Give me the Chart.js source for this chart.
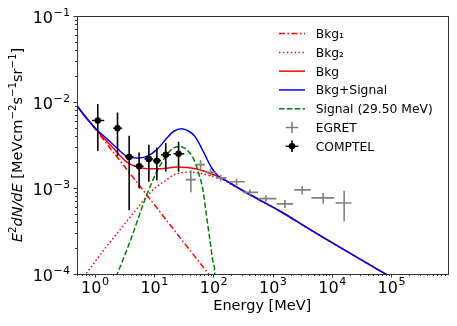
<!DOCTYPE html>
<html><head><meta charset="utf-8">
<script src="https://cdn.jsdelivr.net/npm/chart.js@4/dist/chart.umd.min.js"></script>
<style>html,body{margin:0;padding:0;background:#fff;}#wrap{width:457px;height:326px;position:relative;}</style>
</head><body><div id="wrap"><canvas id="c" width="457" height="326"></canvas></div>
<script>
// ---------- data ----------
const bkg1E = [0.5, 1, 2, 5, 10, 20, 50, 100, 150];
const bkg1Y = [9.0e-3, 4.9e-3, 2.66e-3, 1.19e-3, 6.45e-4, 3.49e-4, 1.56e-4, 8.5e-5, 6.0e-5];

const bkg2E = [0.6, 0.705, 1.0, 1.59, 2.5, 3.46, 5.1, 7.53, 11.1, 16.4, 20.9, 27.1, 40, 59, 87, 128, 200, 361, 1318, 4223, 56300, 150000];
const bkg2Y = [8.6e-5, 1.0e-4, 1.38e-4, 2.11e-4, 3.1e-4, 4.11e-4, 5.74e-4, 8.0e-4, 1.04e-3, 1.25e-3, 1.41e-3, 1.49e-3, 1.53e-3, 1.49e-3, 1.39e-3, 1.30e-3, 1.10e-3, 8.77e-4, 5.37e-4, 3.29e-4, 1.15e-4, 7.8e-5];

const bkgE = [0.5, 1, 2, 3.46, 5.11, 7.5, 11.1, 16.4, 24.3, 35.6, 52.7, 87, 128, 200, 361, 1318, 4223, 56300, 150000];
const bkgY = [9.0e-3, 5.0e-3, 2.95e-3, 2.0e-3, 1.76e-3, 1.68e-3, 1.67e-3, 1.70e-3, 1.76e-3, 1.73e-3, 1.66e-3, 1.48e-3, 1.34e-3, 1.12e-3, 8.8e-4, 5.4e-4, 3.3e-4, 1.15e-4, 7.8e-5];

const totE = [0.5, 0.733, 1.08, 1.59, 2.35, 3.46, 5.11, 7.53, 11.1, 16.4, 21.5, 29.0, 38.5, 48.5, 59.0, 71.6, 92.9, 120, 166, 200, 361, 1318, 4223, 56300, 150000];
const totY = [9.04e-3, 6.38e-3, 4.76e-3, 3.75e-3, 2.92e-3, 2.33e-3, 2.23e-3, 2.33e-3, 2.79e-3, 3.81e-3, 4.57e-3, 4.89e-3, 4.57e-3, 4.0e-3, 3.18e-3, 2.44e-3, 1.72e-3, 1.38e-3, 1.21e-3, 1.12e-3, 8.8e-4, 5.4e-4, 3.3e-4, 1.15e-4, 7.8e-5];

const sigE = [2.0, 2.38, 3.89, 7.53, 11.1, 16.4, 21.1, 27.1, 35.2, 45.5, 55.2, 67.0, 76.5, 86.9, 98.9, 105.6, 110];
const sigY = [7.6e-5, 1.0e-4, 2.35e-4, 8.4e-4, 1.55e-3, 2.44e-3, 2.92e-3, 3.05e-3, 2.79e-3, 2.23e-3, 1.56e-3, 9.2e-4, 4.7e-4, 2.52e-4, 1.35e-4, 1.0e-4, 3.0e-5];

const egretE   = [41.6, 60.6, 89.3, 132, 245, 411, 766, 1600, 3133, 7080, 16000];
const egretY   = [1.25e-3, 1.87e-3, 1.52e-3, 1.31e-3, 1.18e-3, 8.9e-4, 7.53e-4, 6.54e-4, 9.5e-4, 7.67e-4, 6.7e-4];
const egretYerr= [3.6e-4, 2.5e-4, 1.5e-4, 1.2e-4, 1.0e-4, 8e-5, 7e-5, 7e-5, 1.1e-4, 1.1e-4, 2.6e-4];
const egretElo = [34.2, 51.9, 74.5, 110, 189, 316, 567, 1159, 2296, 4510, 11500];
const egretEhi = [50.5, 71.6, 110, 166, 339, 567, 1159, 2208, 4339, 10840, 21300];

const comptelE   = [1.12, 2.41, 3.79, 5.58, 8.14, 11.1, 15.7, 25.8];
const comptelY   = [6.1e-3, 4.96e-3, 2.30e-3, 1.79e-3, 2.18e-3, 2.08e-3, 2.44e-3, 2.5e-3];
const comptelYerr= [3.4e-3, 2.6e-3, 1.75e-3, 8.0e-4, 1.0e-3, 8.5e-4, 9.0e-4, 9.5e-4];
const comptelElo = [0.89, 2.04, 3.24, 4.60, 6.88, 9.5, 13.1, 21.2];
const comptelEhi = [1.44, 2.89, 4.50, 6.62, 9.51, 13.0, 19.1, 32.1];

const xTickVals = [1, 10, 100, 1000, 10000, 100000];
const xTickExps = ['0', '1', '2', '3', '4', '5'];
const yTickVals = [1e-4, 1e-3, 1e-2, 1e-1];
const yTickExps = ['\u22124', '\u22123', '\u22122', '\u22121'];

// ---------- chart ----------
const FONT = 'DejaVu Sans';
const pts = (E, Y) => E.map((e, i) => ({x: e, y: Y[i]}));
const curve = (label, E, Y, color, dash, order) => ({
  label, data: pts(E, Y), borderColor: color, backgroundColor: color, borderDash: dash,
  borderWidth: 1.5, pointRadius: 0, showLine: true, fill: false, tension: 0.4,
  cubicInterpolationMode: 'monotone', order, legendKind: 'line'
});

const datasets = [
  curve('Bkg\u2081', bkg1E, bkg1Y, '#ff0000', [6, 2.5, 1.5, 2.5], 10),
  curve('Bkg\u2082', bkg2E, bkg2Y, '#ff0000', [1.5, 2.4], 9),
  curve('Bkg', bkgE, bkgY, '#ff0000', [], 8),
  curve('Bkg+Signal', totE, totY, '#0000ff', [], 7),
  curve('Signal (29.50 MeV)', sigE, sigY, '#008000', [5.5, 2.4], 6),
  { label: 'EGRET', data: pts(egretE, egretY), showLine: false, pointRadius: 0, order: 2,
    borderColor: '#808080', backgroundColor: '#808080', legendKind: 'err',
    errors: {xlo: egretElo, xhi: egretEhi, yerr: egretYerr}, errColor: '#808080', errWidth: 1.6 },
  { label: 'COMPTEL', data: pts(comptelE, comptelY), showLine: false, pointRadius: 3.2, pointBorderWidth: 0,
    pointBackgroundColor: '#000', borderColor: '#000', backgroundColor: '#000', order: 1, legendKind: 'errdot',
    errors: {xlo: comptelElo, xhi: comptelEhi, yerr: comptelYerr}, errColor: '#000', errWidth: 1.6 }
];

const errorBarPlugin = {
  id: 'errbars',
  beforeDatasetDraw(chart, args) {
    const ds = chart.data.datasets[args.index];
    if (!ds.errors) return;
    const {ctx, chartArea: a, scales: {x, y}} = chart;
    const er = ds.errors;
    ctx.save();
    ctx.beginPath(); ctx.rect(a.left, a.top, a.right - a.left, a.bottom - a.top); ctx.clip();
    ctx.strokeStyle = ds.errColor; ctx.lineWidth = ds.errWidth; ctx.setLineDash([]);
    ctx.beginPath();
    ds.data.forEach((p, i) => {
      const px = x.getPixelForValue(p.x), py = y.getPixelForValue(p.y);
      ctx.moveTo(x.getPixelForValue(er.xlo[i]), py); ctx.lineTo(x.getPixelForValue(er.xhi[i]), py);
      const lo = Math.max(p.y - er.yerr[i], 1e-6);
      ctx.moveTo(px, y.getPixelForValue(lo)); ctx.lineTo(px, y.getPixelForValue(p.y + er.yerr[i]));
    });
    ctx.stroke();
    ctx.restore();
  }
};

const TFS = 16, SFS = 11.2;
const decorPlugin = {
  id: 'decor',
  afterDraw(chart) {
    const {ctx, chartArea: a, scales: {x, y}} = chart;
    ctx.save();
    // tick marks
    ctx.strokeStyle = '#222'; ctx.lineWidth = 0.9; ctx.setLineDash([]);
    ctx.beginPath();
    for (let k = -1; k <= 6; k++) for (let m = 1; m <= 9; m++) {
      const v = m * Math.pow(10, k);
      if (v < x.min * 0.999 || v > x.max * 1.001) continue;
      const px = Math.round(x.getPixelForValue(v)) + 0.5;
      const len = m === 1 ? 3.5 : 2;
      ctx.moveTo(px, a.bottom); ctx.lineTo(px, a.bottom + len);
    }
    for (let k = -5; k <= -1; k++) for (let m = 1; m <= 9; m++) {
      const v = m * Math.pow(10, k);
      if (v < y.min * 0.999 || v > y.max * 1.001) continue;
      const py = Math.round(y.getPixelForValue(v)) + 0.5;
      const len = m === 1 ? 3.5 : 2;
      ctx.moveTo(a.left, py); ctx.lineTo(a.left - len, py);
    }
    ctx.stroke();
    // frame
    ctx.strokeStyle = '#333'; ctx.lineWidth = 1;
    ctx.strokeRect(Math.round(a.left) + 0.5, Math.round(a.top) + 0.5, Math.round(a.right - a.left), Math.round(a.bottom - a.top));

    // tick labels (10 with superscript exponent)
    ctx.fillStyle = '#000'; ctx.textBaseline = 'alphabetic'; ctx.textAlign = 'left';
    const baseF = TFS + 'px "' + FONT + '"', supF = SFS + 'px "' + FONT + '"';
    const measure = (e) => { ctx.font = baseF; const w1 = ctx.measureText('10').width; ctx.font = supF; const w2 = ctx.measureText(e).width; return [w1, w2]; };
    xTickVals.forEach((v, i) => {
      const px = x.getPixelForValue(v);
      const [w1, w2] = measure(xTickExps[i]);
      const left = px - (w1 + w2) / 2, base = a.bottom + 18.5;
      ctx.font = baseF; ctx.fillText('10', left, base);
      ctx.font = supF; ctx.fillText(xTickExps[i], left + w1 + 0.5, base - 7.3);
    });
    yTickVals.forEach((v, i) => {
      const py = y.getPixelForValue(v);
      const [w1, w2] = measure(yTickExps[i]);
      const right = a.left - 7, base = py + 7;
      ctx.font = baseF; ctx.fillText('10', right - w2 - 0.5 - w1, base);
      ctx.font = supF; ctx.fillText(yTickExps[i], right - w2, base - 6.7);
    });

    // y-axis title with math-style segments
    const fs = 14.5, sfs = 10.2;
    const segs = [
      {t: 'E', f: 'italic ' + fs + 'px "' + FONT + '"', dy: 0},
      {t: '2', f: sfs + 'px "' + FONT + '"', dy: -6},
      {t: 'dN/dE', f: 'italic ' + fs + 'px "' + FONT + '"', dy: 0},
      {t: ' [MeVcm', f: fs + 'px "' + FONT + '"', dy: 0},
      {t: '\u22122', f: sfs + 'px "' + FONT + '"', dy: -6},
      {t: 's', f: fs + 'px "' + FONT + '"', dy: 0},
      {t: '\u22121', f: sfs + 'px "' + FONT + '"', dy: -6},
      {t: 'sr', f: fs + 'px "' + FONT + '"', dy: 0},
      {t: '\u22121', f: sfs + 'px "' + FONT + '"', dy: -6},
      {t: ']', f: fs + 'px "' + FONT + '"', dy: 0}
    ];
    let tw = 0;
    segs.forEach(s => { ctx.font = s.f; s.w = ctx.measureText(s.t).width; tw += s.w; });
    ctx.translate(21.5, (a.top + a.bottom) / 2);
    ctx.rotate(-Math.PI / 2);
    let cx = -tw / 2;
    segs.forEach(s => { ctx.font = s.f; ctx.fillText(s.t, cx, s.dy); cx += s.w; });
    ctx.restore();

    // legend
    ctx.save();
    const lx0 = 279, lx1 = 305, tx = 315.7;
    ctx.font = '12.3px "' + FONT + '"';
    ctx.textBaseline = 'alphabetic'; ctx.textAlign = 'left';
    chart.data.datasets.forEach((ds, i) => {
      const ry = 33.6 + i * 18.78;
      ctx.setLineDash([]);
      if (ds.legendKind === 'line') {
        ctx.strokeStyle = ds.borderColor; ctx.lineWidth = ds.borderWidth;
        ctx.setLineDash(ds.borderDash || []);
        ctx.beginPath(); ctx.moveTo(lx0, ry); ctx.lineTo(lx1, ry); ctx.stroke();
      } else {
        const cxm = (lx0 + lx1) / 2;
        ctx.strokeStyle = ds.errColor; ctx.lineWidth = ds.errWidth;
        ctx.beginPath();
        ctx.moveTo(cxm - 6.3, ry); ctx.lineTo(cxm + 6.3, ry);
        ctx.moveTo(cxm, ry - 5.8); ctx.lineTo(cxm, ry + 5.8);
        ctx.stroke();
        if (ds.legendKind === 'errdot') {
          ctx.fillStyle = '#000'; ctx.beginPath(); ctx.arc(cxm, ry, 3.2, 0, 2 * Math.PI); ctx.fill();
        }
      }
      ctx.fillStyle = '#000';
      ctx.fillText(ds.label, tx, ry + 4.5);
    });
    ctx.restore();
  }
};

new Chart(document.getElementById('c').getContext('2d'), {
  type: 'scatter',
  data: {datasets},
  options: {
    responsive: false, animation: false, devicePixelRatio: 1,
    layout: {padding: {left: 0, top: 16, right: 9.5, bottom: 0}},
    plugins: {legend: {display: false}, tooltip: {enabled: false}},
    scales: {
      x: {
        type: 'logarithmic', min: 0.5, max: 8.85e5,
        afterBuildTicks: s => { s.ticks = xTickVals.map(v => ({value: v})); },
        afterFit: s => { s.height = 52; },
        grid: {display: false, drawTicks: false},
        border: {display: false},
        ticks: {display: false},
        title: {display: true, text: 'Energy [MeV]', font: {family: FONT, size: 14.5}, color: '#000',
                padding: {top: 0, bottom: 11}}
      },
      y: {
        type: 'logarithmic', min: 1e-4, max: 1e-1,
        afterBuildTicks: s => { s.ticks = yTickVals.map(v => ({value: v})); },
        afterFit: s => { s.width = 77; },
        grid: {display: false, drawTicks: false},
        border: {display: false},
        ticks: {display: false}
      }
    }
  },
  plugins: [errorBarPlugin, decorPlugin]
});
</script>
</body></html>
